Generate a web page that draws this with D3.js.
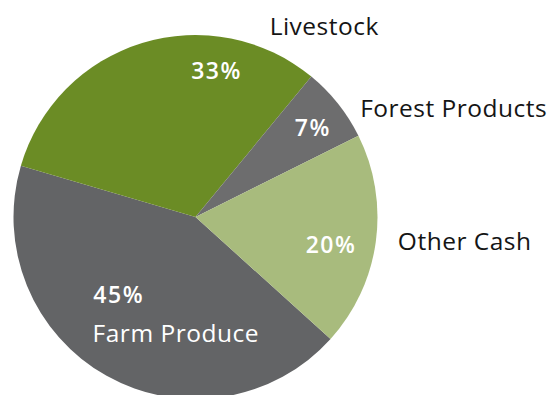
<!DOCTYPE html>
<html>
<head>
<meta charset="utf-8">
<script src="https://cdn.jsdelivr.net/npm/d3@7"></script>
<style>
  html, body { margin: 0; padding: 0; background: #fff; }
  svg { display: block; font-family: "Open Sans", "Noto Sans", sans-serif; }
</style>
</head>
<body>
<div id="chart"></div>
<script>
const categories = ["Farm Produce", "Livestock", "Forest Products", "Other Cash"];
const values = [45, 33, 7, 20];
const pctLabels = ["45%", "33%", "7%", "20%"];
const colors = ["#636466", "#6b8c25", "#6d6d6e", "#a8bb7d"];

// hand placed labels, polar (deg clockwise from 12 o'clock, radius as fraction of pie radius)
const pctPos = [[224.7, 0.60], [8.2, 0.81], [52.7, 0.81], [101.5, 0.76]];
const namePos = [[189.6, 0.65], [34, 1.265], [67.1, 1.54], [95.1, 1.485]];
const nameInside = [true, false, false, false];

const width = 552, height = 395;
const cx = 195.5, cy = 217, radius = 182;

const svg = d3.select("#chart").append("svg")
  .attr("width", width).attr("height", height);

const g = svg.append("g").attr("transform", `translate(${cx},${cy})`);

const data = categories.map((c, i) => ({ name: c, value: values[i], pct: pctLabels[i], i }));

const pie = d3.pie().sort(null).value(d => d.value)
  .startAngle(132.1 * Math.PI / 180)
  .endAngle((132.1 + 360) * Math.PI / 180);
const arc = d3.arc().innerRadius(0).outerRadius(radius);

g.selectAll("path.slice")
  .data(pie(data))
  .join("path")
  .attr("class", "slice")
  .attr("d", arc)
  .attr("fill", d => colors[d.data.i]);

function polar([deg, f]) {
  const a = deg * Math.PI / 180;
  return [Math.sin(a) * f * radius, -Math.cos(a) * f * radius];
}

g.selectAll("text.pct")
  .data(data)
  .join("text")
  .attr("class", "pct")
  .attr("transform", d => `translate(${polar(pctPos[d.i])})`)
  .attr("text-anchor", "middle")
  .attr("dy", "0.36em")
  .attr("fill", "#fff")
  .attr("font-size", 23)
  .attr("font-weight", 600)
  .attr("letter-spacing", 1.5)
  .text(d => d.pct);

g.selectAll("text.name")
  .data(data)
  .join("text")
  .attr("class", "name")
  .attr("transform", d => `translate(${polar(namePos[d.i])})`)
  .attr("text-anchor", "middle")
  .attr("dy", "0.36em")
  .attr("fill", d => nameInside[d.i] ? "#fff" : "#151515")
  .attr("font-size", 24.5)
  .attr("letter-spacing", 0.5)
  .text(d => d.name);
</script>
</body>
</html>
